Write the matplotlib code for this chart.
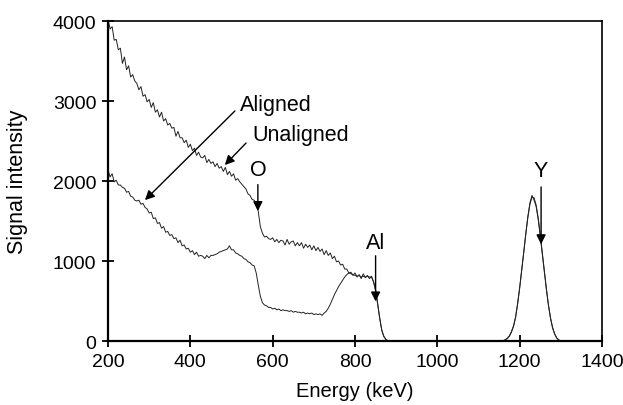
import matplotlib
matplotlib.use("Agg")
import matplotlib.pyplot as plt
import numpy as np

plt.rcParams['font.family'] = ['Liberation Sans', 'DejaVu Sans']

# energy channels, 5 keV apart
energy = np.arange(200, 1401, 5)

# 200 - 880 keV, one row per 50 keV
unaligned_low = [
    4020, 3900, 3930, 3760, 3770, 3640, 3660, 3470, 3550, 3390,
    3440, 3300, 3330, 3250, 3220, 3140, 3180, 3060, 3080, 2990,
    3020, 2920, 2980, 2860, 2890, 2800, 2860, 2750, 2780, 2700,
    2720, 2660, 2670, 2560, 2620, 2540, 2540, 2480, 2510, 2420,
    2460, 2380, 2410, 2320, 2360, 2300, 2290, 2320, 2230, 2270,
    2220, 2240, 2180, 2220, 2160, 2180, 2120, 2170, 2080, 2120,
    2060, 2090, 2010, 2030, 1990, 1960, 1930, 1900, 1840, 1820,
    1770, 1760, 1700, 1620, 1430, 1350, 1300, 1310, 1280, 1270,
    1290, 1240, 1270, 1230, 1260, 1250, 1200, 1270, 1210, 1240,
    1250, 1190, 1230, 1190, 1230, 1160, 1210, 1170, 1200, 1140,
    1190, 1130, 1170, 1120, 1150, 1080, 1130, 1070, 1100, 1030,
    1060, 990, 1000, 950, 960, 900, 900, 850, 860, 820,
    850, 800, 830, 780, 840, 790, 820, 780, 810, 740,
    640, 470, 290, 140, 60, 20, 5,
]
aligned_low = [
    2140, 2050, 2090, 1990, 2010, 1950, 1950, 1920, 1910, 1860,
    1870, 1810, 1800, 1760, 1750, 1760, 1710, 1720, 1670, 1650,
    1600, 1610, 1530, 1540, 1470, 1480, 1410, 1430, 1360, 1370,
    1320, 1330, 1280, 1290, 1230, 1260, 1190, 1200, 1150, 1160,
    1110, 1130, 1080, 1110, 1060, 1070, 1060, 1030, 1070, 1040,
    1070, 1070, 1080, 1090, 1110, 1120, 1130, 1140, 1150, 1190,
    1140, 1140, 1100, 1090, 1070, 1060, 1030, 1020, 990, 980,
    950, 940, 850, 700, 560, 480, 450, 440, 420, 420,
    400, 410, 390, 400, 380, 390, 380, 380, 370, 380,
    360, 370, 360, 360, 350, 360, 340, 350, 340, 350,
    330, 340, 330, 340, 320, 350, 370, 410, 460, 520,
    580, 630, 680, 720, 760, 800, 830, 850, 840, 830,
    820, 810, 820, 800, 810, 800, 810, 800, 800, 740,
    630, 460, 280, 130, 55, 20, 5,
]

# Y peak, 1160 - 1295 keV
unaligned_peak = [5, 15, 30, 60, 110, 180, 290, 460, 660, 880,
                  1110, 1340, 1550, 1710, 1800, 1790, 1700, 1540, 1330, 1100,
                  870, 650, 450, 290, 170, 90, 40, 15]
aligned_peak = [5, 15, 35, 65, 120, 190, 300, 470, 670, 890,
                1120, 1350, 1560, 1730, 1820, 1760, 1680, 1520, 1310, 1080,
                860, 640, 440, 280, 160, 85, 35, 12]

unaligned = unaligned_low + [0] * 55 + unaligned_peak + [0] * 21
aligned = aligned_low + [0] * 55 + aligned_peak + [0] * 21

fig = plt.figure(figsize=(6.23, 4.06), dpi=100)
ax = fig.add_axes([0.1734, 0.1576, 0.7929, 0.7882])

ax.plot(energy, unaligned, color='#222222', lw=0.7)
ax.plot(energy, aligned, color='#222222', lw=0.7)

ax.set_xlim(200, 1400)
ax.set_ylim(0, 4000)
ax.set_xticks([200, 400, 600, 800, 1000, 1200, 1400])
ax.set_yticks([0, 1000, 2000, 3000, 4000])
ax.tick_params(direction='inout', length=9, width=1.3, labelsize=14, pad=4)
for side in ['left', 'bottom']:
    ax.spines[side].set_linewidth(1.6)
for side in ['top', 'right']:
    ax.spines[side].set_linewidth(1.2)

ax.set_xlabel('Energy (keV)', fontsize=14.5)
ax.set_ylabel('Signal intensity', fontsize=15.5)
ax.xaxis.set_label_coords(0.5, -0.125)
ax.yaxis.set_label_coords(-0.162, 0.5)

arrow = dict(arrowstyle='-|>', color='black', lw=1.0, mutation_scale=14)
fs = 15.5

ax.text(521, 2962, 'Aligned', fontsize=fs, va='center', ha='left')
ax.annotate('', xy=(285, 1737), xytext=(513, 2900), arrowprops=arrow)

ax.text(550, 2587, 'Unaligned', fontsize=fs, va='center', ha='left')
ax.annotate('', xy=(479, 2175), xytext=(540, 2500), arrowprops=arrow)

ax.text(564, 2150, 'O', fontsize=fs, va='center', ha='center')
ax.annotate('', xy=(564, 1590), xytext=(564, 1990), arrowprops=arrow)

ax.text(850, 1237, 'Al', fontsize=fs, va='center', ha='center')
ax.annotate('', xy=(850, 460), xytext=(850, 1100), arrowprops=arrow)

ax.text(1252, 2130, 'Y', fontsize=fs, va='center', ha='center')
ax.annotate('', xy=(1252, 1175), xytext=(1252, 1960), arrowprops=arrow)

fig.savefig('out.png', dpi=100)
